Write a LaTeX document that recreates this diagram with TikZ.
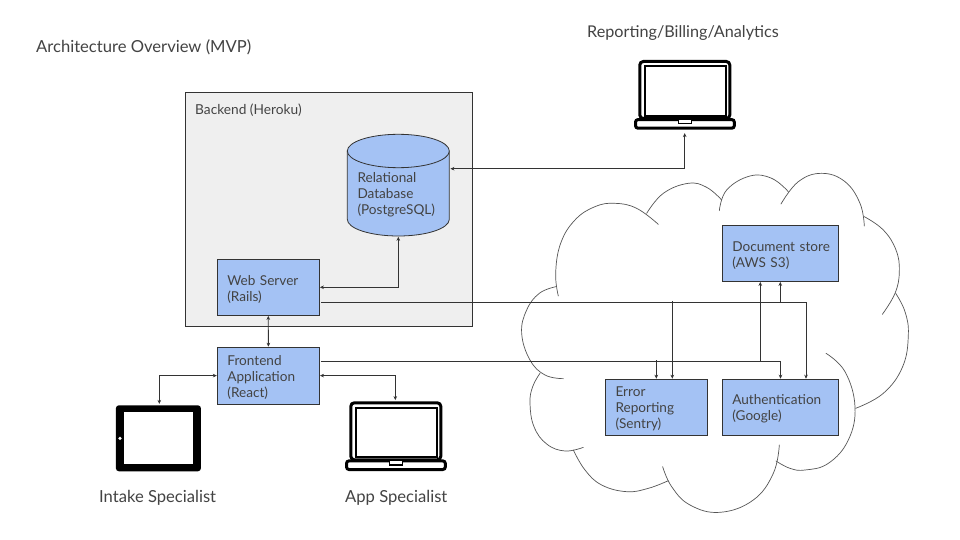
\documentclass[tikz,border=0pt]{standalone}
\usepackage{fontspec}
\setmainfont{Lato}
\usetikzlibrary{arrows.meta}
\definecolor{boxblue}{HTML}{A4C2F4}
\definecolor{backgrey}{HTML}{EFEFEF}
\definecolor{edge}{HTML}{333333}
\definecolor{ink}{HTML}{434343}
\definecolor{cloudline}{HTML}{555555}
\newcommand{\dn}{\rule{0pt}{13.6pt}}
\tikzset{
  bluebox/.style={draw=edge,fill=boxblue,line width=0.8pt,outer sep=0pt,inner xsep=10pt,inner ysep=0pt,
    align=left,text=ink,font=\fontsize{13.6}{16}\selectfont,minimum height=56pt},
  plainlabel/.style={text=ink,inner sep=0pt,font=\fontsize{16.6}{18}\selectfont},
  conn/.style={draw=edge,line width=0.8pt},
  both/.style={conn,{Stealth[length=4pt,width=3.6pt]}-{Stealth[length=4pt,width=3.6pt]},shorten <=0.6pt,shorten >=0.6pt},
  single/.style={conn,-{Stealth[length=4pt,width=3.6pt]},shorten >=0.6pt},
  lobe/.style={draw=cloudline,line width=0.7pt,line cap=round},
  iconspot/.style={minimum width=101pt,minimum height=70pt,inner sep=0pt,outer sep=0pt},
}
\newcommand{\laptopicon}[2]{%
  \begin{scope}[shift={(#1,#2)}]
    \draw[black,line width=3pt,rounded corners=3.5pt,fill=white] (1.5,1.5) rectangle (91.5,58.5);
    \draw[black,line width=2pt,fill=white] (6.4,6.4) rectangle (87.9,55.9);
    \draw[black,line width=3pt,rounded corners=2.5pt,fill=white] (-2.8,59.6) rectangle (96,68.2);
    \draw[black,line width=1.4pt,fill=white] (40,59.6) -- (40,63.8) -- (53,63.8) -- (53,59.6);
  \end{scope}}
\begin{document}
\begin{tikzpicture}[x=1pt,y=-1pt]
\path[fill=white] (0,0) rectangle (960,540);
\useasboundingbox (0,0) rectangle (960,540);

% cloud
\begin{scope}[x=0.33333pt,y=-0.33333pt,shift={(1560,480)}]
  \draw[lobe] plot[smooth,tension=0.7] coordinates {(115,408) (107,340) (122,250) (165,180) (225,140) (285,130) (350,145) (415,193)};
  \draw[lobe] plot[smooth,tension=0.7] coordinates {(380,160) (430,100) (505,70) (560,82) (605,120)};
  \draw[lobe] plot[smooth,tension=0.7] coordinates {(598,152) (620,90) (690,48) (755,55) (805,95)};
  \draw[lobe] plot[smooth,tension=0.7] coordinates {(783,132) (835,65) (905,40) (975,65) (1020,130) (1033,198)};
  \draw[lobe] plot[smooth,tension=0.7] coordinates {(1033,170) (1090,210) (1128,270) (1138,335) (1125,400) (1087,463)};
  \draw[lobe] plot[smooth,tension=0.7] coordinates {(1127,400) (1155,455) (1165,525) (1148,620) (1090,700) (1007,745)};
  \draw[lobe] plot[smooth,tension=0.7] coordinates {(918,580) (975,635) (1005,740) (985,840) (925,910) (855,930) (810,925) (768,903)};
  \draw[lobe] plot[smooth,tension=0.7] coordinates {(778,855) (760,940) (700,1020) (600,1057) (510,1035) (455,980) (428,920)};
  \draw[lobe] plot[smooth,tension=0.7] coordinates {(445,962) (385,985) (320,995) (245,975) (195,930) (160,870)};
  \draw[lobe] plot[smooth,tension=0.7] coordinates {(190,862) (135,873) (80,852) (42,800) (30,730) (38,680) (60,640)};
  \draw[lobe] plot[smooth,tension=0.7] coordinates {(130,656) (75,645) (30,600) (5,520) (20,450) (58,400) (108,380)};
\end{scope}

% backend
\node[draw=edge,fill=backgrey,line width=0.8pt,minimum width=287.5pt,minimum height=234pt,inner sep=0pt,outer sep=0pt] (backend) at (328.8,209.7) {};
\node[anchor=west,text=ink,inner sep=0pt,font=\fontsize{13.7}{16}\selectfont] (backendlabel) at (195,110) {Backend (Heroku)};

% database
\path[draw=edge,fill=boxblue,line width=0.8pt] (347.3,151) -- (347.3,219.3)
  arc[start angle=180,end angle=0,x radius=51,y radius=16.7] -- (449.3,151) -- cycle;
\path[draw=edge,fill=boxblue,line width=0.8pt] (398.3,151) ellipse[x radius=51,y radius=16.7];
\node[minimum width=102pt,minimum height=102pt,inner sep=0pt,outer sep=0pt] (db) at (398.3,185.2) {};
\node[align=left,text=ink,inner sep=0pt,anchor=west,font=\fontsize{13.6}{16}\selectfont] (dbtext) at (357.3,194.8)
  {Relational\\Database\\(PostgreSQL)};

% blue boxes
\node[bluebox,text width=82pt] (web) at (268.3,287.3) {\dn Web Server\\(Rails)};
\node[bluebox,text width=82pt,minimum height=57pt] (front) at (268.4,375.8) {\dn Frontend\\Application\\(React)};
\node[bluebox,text width=96.4pt] (docs) at (780.5,253.3) {\dn\mbox{Document store}\\(AWS S3)};
\node[bluebox,text width=82pt] (error) at (656.5,407.3) {\dn Error\\Reporting\\(Sentry)};
\node[bluebox,text width=96.4pt] (auth) at (780.5,407.3) {\dn Authentication\\(Google)};

% icons
\node[minimum width=85pt,minimum height=66pt,inner sep=0pt,outer sep=0pt,fill=black,rounded corners=3pt] (tablet) at (158.4,438.3) {};
\node[fill=white,minimum width=69.3pt,minimum height=52pt,inner sep=0pt] (tabletscreen) at (158.7,438.3) {};
\fill[white] (120,438.3) circle (1.8);
\laptopicon{349.3}{401.3}
\laptopicon{638.3}{60}
\node[iconspot] (applaptop) at (395.8,435.5) {};
\node[iconspot] (replaptop) at (684.7,94.5) {};

% labels
\node[plainlabel,anchor=west] (title) at (36,47.5) {Architecture Overview (MVP)};
\node[plainlabel,anchor=west,font=\fontsize{16.2}{18}\selectfont] (reportlabel) at (587,33.5) {Reporting/Billing/Analytics};
\node[plainlabel,anchor=west] (intakelabel) at (99,497.5) {Intake Specialist};
\node[plainlabel,anchor=west] (applabel) at (345,497.5) {App Specialist};

% connectors
\coordinate (reptip) at (684.7,132.5);
\draw[both] (449.8,168.7) -| (reptip);
\draw[both] (web.east) -| (db.south);
\draw[both] (web.south) -- (front.north);
\draw[both] ([yshift=0.2pt]front.west) -| (159.3,404.5);
\draw[both] ([yshift=0.2pt]front.east) -| (395.3,400.7);

% web server fan-out
\coordinate (webout) at (321,302);
\coordinate (webbendA) at (672.3,301);
\coordinate (webbendB) at (780.3,302);
\draw[single] (webout) -| ([xshift=25.5pt]auth.north);
\draw[single] (webbendA) -- (webbendA|-error.north);
\draw[single] (webbendB) -- (webbendB|-docs.south);

% frontend fan-out
\coordinate (frontout) at (320.8,361);
\coordinate (frontbendA) at (656.3,360);
\coordinate (frontbendB) at (760.3,361);
\draw[single] (frontout) -| (auth.north);
\draw[single] (frontbendA) -- (frontbendA|-error.north);
\draw[single] (frontbendB) -- (frontbendB|-docs.south);
\end{tikzpicture}
\end{document}
